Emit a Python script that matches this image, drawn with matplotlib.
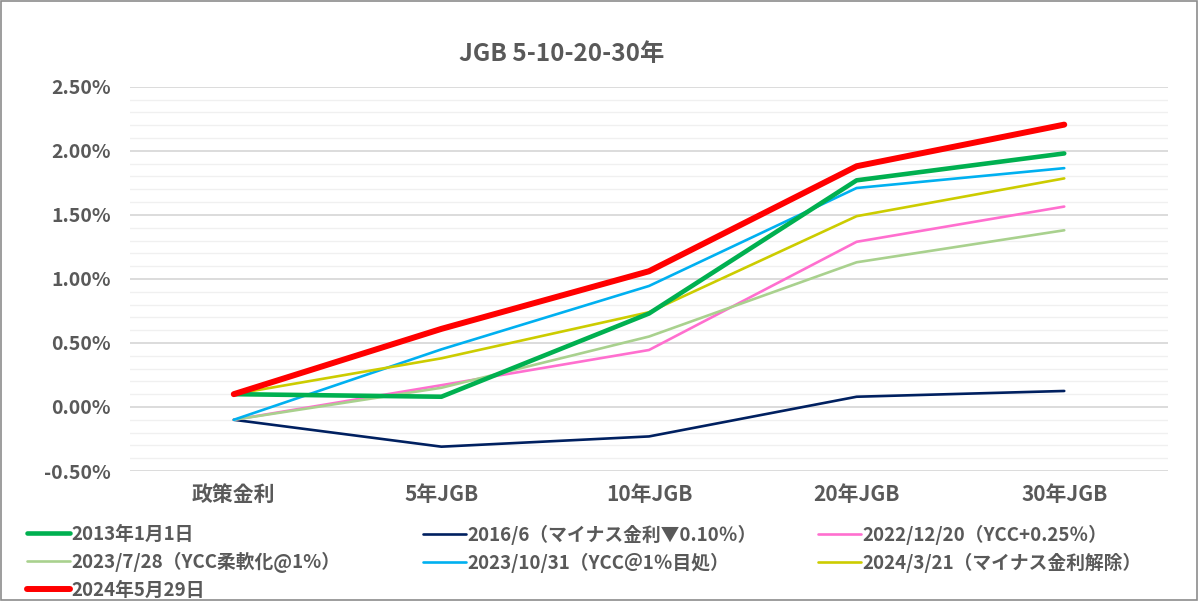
import matplotlib
matplotlib.use("Agg")
import matplotlib.pyplot as plt
from matplotlib.ticker import MultipleLocator, FuncFormatter
from matplotlib.patches import Rectangle

plt.rcParams['font.family'] = ['Noto Sans CJK JP', 'DejaVu Sans']

categories = ["政策金利", "5年JGB", "10年JGB", "20年JGB", "30年JGB"]

labels = [
    "2013年1月1日",
    "2016/6（マイナス金利▼0.10％）",
    "2022/12/20（YCC+0.25％）",
    "2023/7/28（YCC柔軟化@1%）",
    "2023/10/31（YCC＠1％目処）",
    "2024/3/21（マイナス金利解除）",
    "2024年5月29日",
]

s2013 = [0.10, 0.08, 0.73, 1.77, 1.98]
s2016 = [-0.10, -0.31, -0.23, 0.08, 0.125]
s2022 = [-0.10, 0.17, 0.445, 1.29, 1.565]
s2023a = [-0.10, 0.15, 0.55, 1.13, 1.38]
s2023b = [-0.10, 0.45, 0.945, 1.71, 1.865]
s2024a = [0.10, 0.38, 0.74, 1.49, 1.785]
s2024b = [0.10, 0.61, 1.06, 1.88, 2.205]

series = [s2013, s2016, s2022, s2023a, s2023b, s2024a, s2024b]
colors = ["#00B050", "#002060", "#FF6FCF", "#A9D18E", "#00B0F0", "#CCCC00", "#FF0000"]
widths = [3.3, 1.9, 1.9, 1.9, 1.9, 1.9, 4.3]
zorders = [4, 3, 3, 3, 3, 3, 5]

fig = plt.figure(figsize=(11.98, 6.01), dpi=100)
ax = fig.add_axes([0.1085, 0.2163, 0.8665, 0.6392])

x = list(range(len(categories)))
handles = []
for vals, c, w, z, lab in zip(series, colors, widths, zorders, labels):
    h, = ax.plot(x, vals, color=c, lw=w, zorder=z, label=lab,
                 solid_capstyle='round', solid_joinstyle='round')
    handles.append(h)

ax.set_xlim(-0.5, 4.5)
ax.set_ylim(-0.5, 2.5)
ax.yaxis.set_major_locator(MultipleLocator(0.5))
ax.yaxis.set_minor_locator(MultipleLocator(0.1))
ax.yaxis.set_major_formatter(FuncFormatter(lambda v, p: f"{v:.2f}%"))
ax.grid(which='major', axis='y', color='#D9D9D9', lw=1.3, zorder=0)
ax.grid(which='minor', axis='y', color='#F0F0F0', lw=1.0, zorder=0)
ax.set_axisbelow(True)
for sp in ax.spines.values():
    sp.set_visible(False)
ax.tick_params(axis='both', which='both', length=0)
ax.tick_params(axis='y', pad=14)
ax.tick_params(axis='x', pad=9)
ax.set_xticks(x)
ax.set_xticklabels(categories)
for t in ax.get_xticklabels():
    t.set_fontsize(15)
    t.set_fontweight('bold')
    t.set_color('#595959')
for t in ax.get_yticklabels():
    t.set_fontsize(14)
    t.set_fontweight('bold')
    t.set_color('#595959')

fig.text(0.469, 0.91, "JGB 5-10-20-30年", ha='center', va='center',
         fontsize=17.5, fontweight='bold', color='#595959')

columns = [[0, 3, 6], [1, 4], [2, 5]]
col_x = [27, 423, 818]
for idxs, cx in zip(columns, col_x):
    leg = fig.legend([handles[i] for i in idxs], [labels[i] for i in idxs],
                     ncols=1, loc='upper left', bbox_to_anchor=(cx / 1198, 0.127),
                     frameon=False, handlelength=2.3, handletextpad=0.05,
                     labelspacing=0.42, borderaxespad=0, borderpad=0,
                     prop={'size': 13.5, 'weight': 'bold'}, labelcolor='#595959')

fig.patches.append(Rectangle((0.0005, 0.001), 0.999, 0.998, transform=fig.transFigure,
                             fill=False, edgecolor='#8C8C8C', lw=1.2))

fig.savefig("out.png", dpi=100, facecolor='white')
